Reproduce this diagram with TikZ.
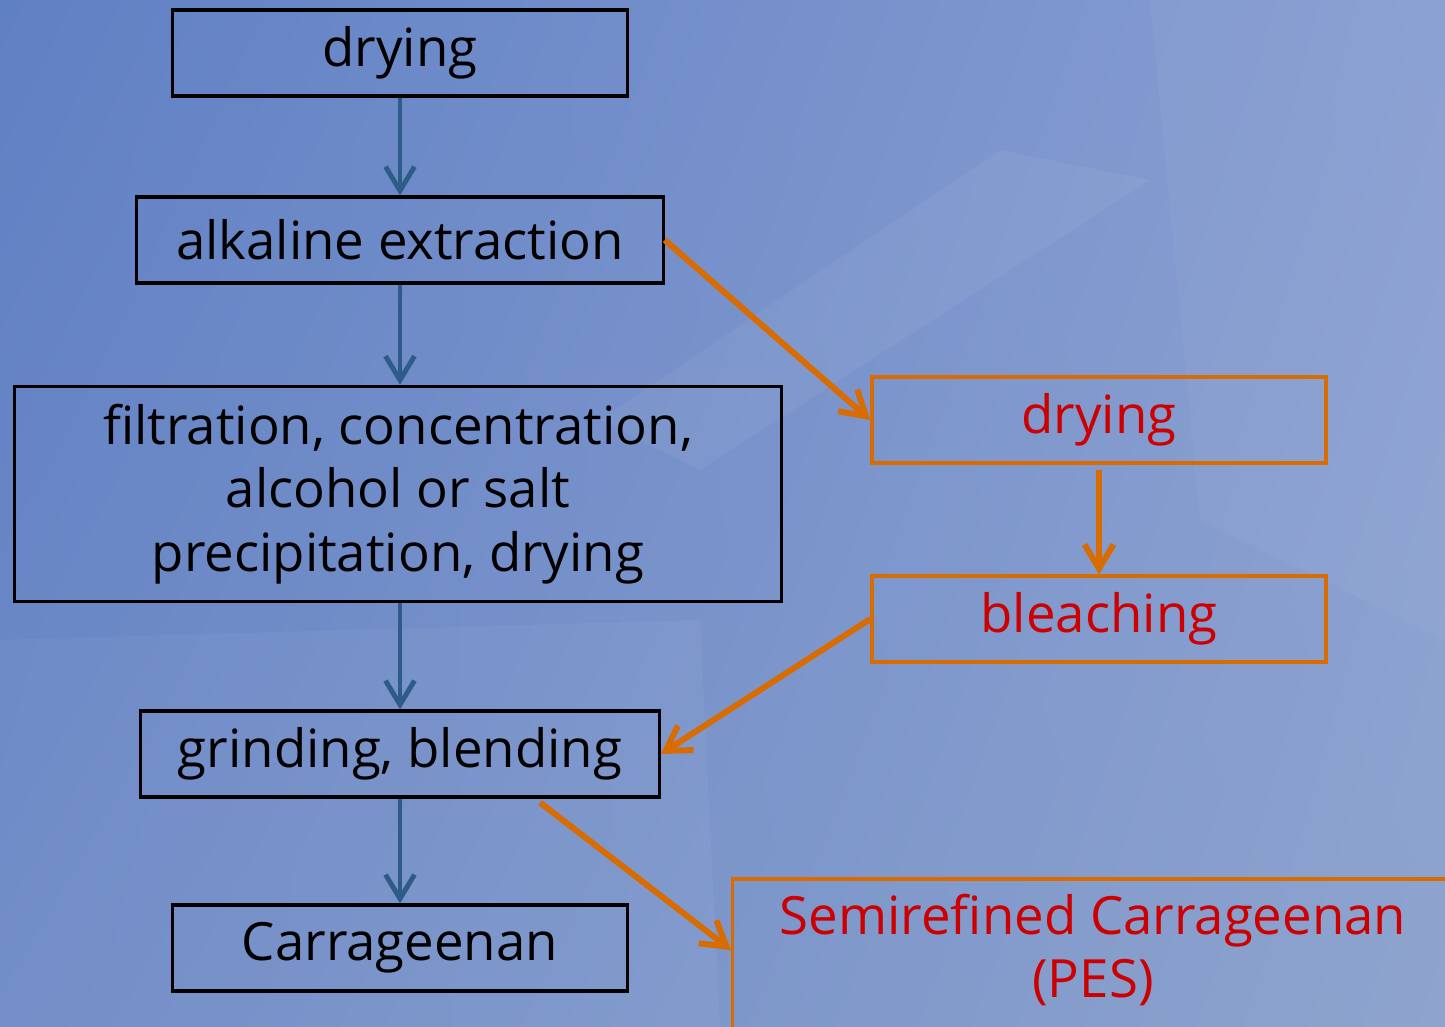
\documentclass[tikz,border=0pt]{standalone}
\usepackage{fontspec}
\setmainfont{Open Sans}
\usetikzlibrary{arrows.meta, shadings}

\definecolor{flowblue}{HTML}{2E5C88}
\definecolor{sideorange}{HTML}{D96C00}
\definecolor{pesred}{HTML}{CC0000}
\definecolor{bgul}{RGB}{96,128,196}
\definecolor{bgur}{RGB}{136,158,210}
\definecolor{bgll}{RGB}{110,138,198}
\definecolor{bglr}{RGB}{142,164,206}

\begin{document}
\begin{tikzpicture}[x=0.01cm, y=-0.01cm,
    stepbox/.style={draw=black, line width=0.9pt, minimum height=0.86cm,
        inner sep=0pt, align=center, font=\fontsize{15}{18}\selectfont},
    pesbox/.style={stepbox, draw=sideorange, text=pesred, line width=0.95pt},
    flow/.style={draw=flowblue, line width=1.4pt,
        -{Straight Barb[length=2.4mm, width=2.9mm, line width=1.4pt]}},
    side/.style={draw=sideorange, line width=1.7pt,
        -{Straight Barb[length=2.4mm, width=2.9mm, line width=1.7pt]}}]

    % Background
    \useasboundingbox (0,0) rectangle (1445,1027);
    \clip (0,0) rectangle (1445,1027);
    \shade[upper left=bgul, upper right=bgur, lower left=bgll, lower right=bglr]
        (0,0) rectangle (1445,1027);
    \fill[white, opacity=0.05] (600,420) -- (1000,150) -- (1150,180) -- (700,470) -- cycle;
    \fill[white, opacity=0.04] (1150,0) -- (1445,0) -- (1445,640) -- (1200,520) -- cycle;
    \fill[white, opacity=0.04] (0,640) -- (700,620) -- (720,1027) -- (0,1027) -- cycle;

    % Define the main steps
    \node[stepbox, minimum width=4.54cm] (dry) at (400,53) {drying};
    \node[stepbox, minimum width=5.26cm] (alk) at (400,240) {alkaline extraction};
    \node[stepbox, minimum width=7.67cm, minimum height=2.15cm] (filt) at (398,494)
        {filtration, concentration,\\alcohol or salt\\precipitation, drying};
    \node[stepbox, minimum width=5.18cm] (grind) at (400,754) {grinding, blending};
    \node[stepbox, minimum width=4.54cm] (carr) at (400,948) {Carrageenan};

    % Define the side steps
    \node[pesbox, minimum width=4.54cm] (dryb) at (1099,420) {drying};
    \node[pesbox, minimum width=4.54cm] (bleach) at (1099,619) {bleaching};
    \node[pesbox, minimum width=7.3cm, minimum height=1.8cm] (pesframe) at (1098,969) {};
    \node[text=pesred, align=center, font=\fontsize{15}{18}\selectfont] (pes) at (1093,950)
        {Semirefined Carrageenan\\(PES)};

    % Draw the main arrows
    \draw[flow] (dry) -- (alk);
    \draw[flow] (alk) -- (filt.north -| alk.south);
    \draw[flow] (filt.south -| grind.north) -- (grind);
    \draw[flow] (grind) -- (carr);

    % Draw the side arrows
    \draw[side] (alk.east) -- (dryb.west);
    \draw[side] ([yshift=-0.05cm]dryb.south) -- (bleach.north);
    \draw[side] (bleach.west) -- (grind.east);
    \draw[side] ([xshift=1.4cm, yshift=-0.04cm]grind.south) -- (pesframe.west |- pes);

\end{tikzpicture}
\end{document}
